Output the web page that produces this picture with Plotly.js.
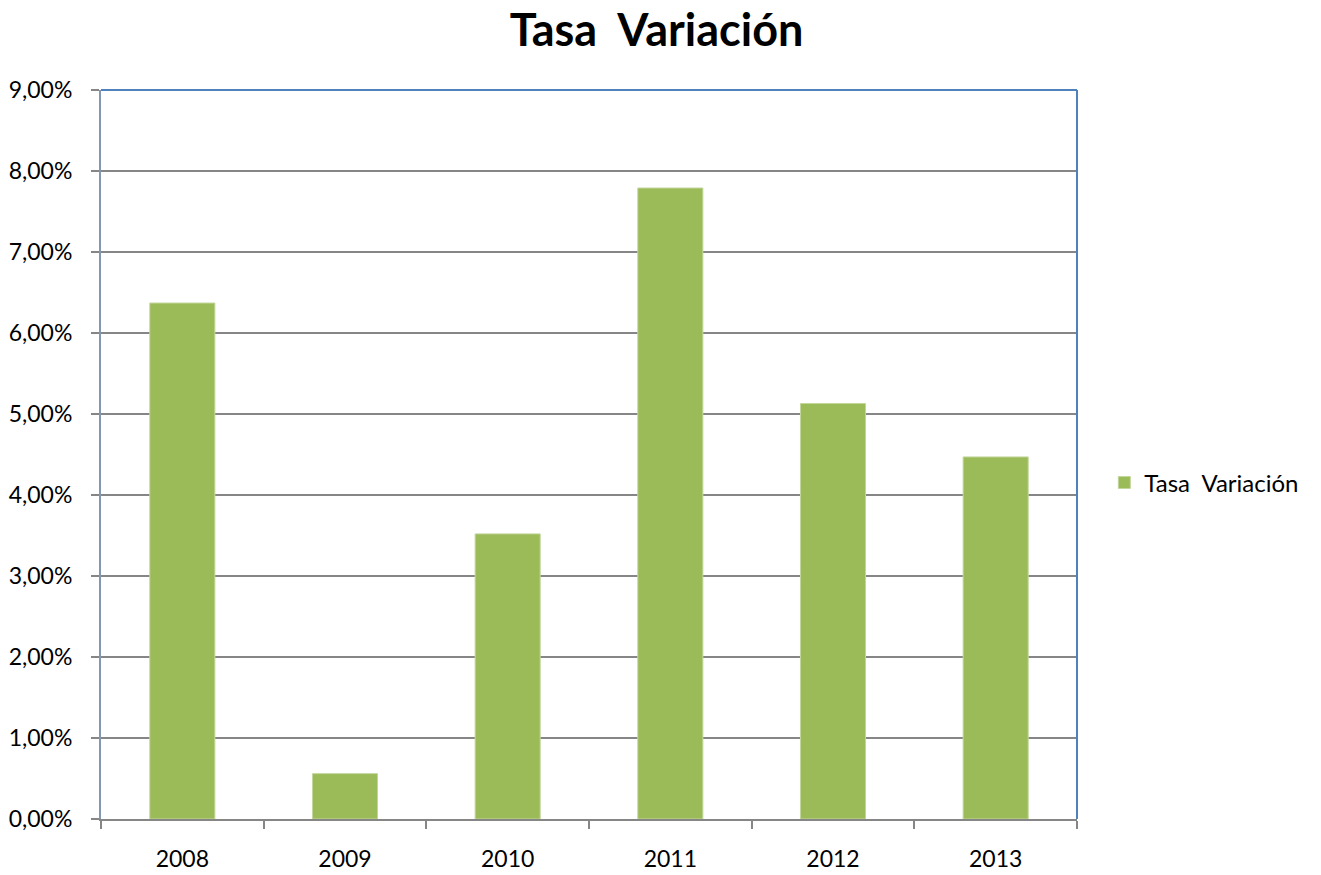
<!DOCTYPE html>
<html>
<head>
<meta charset="utf-8">
<script src="https://cdn.plot.ly/plotly-3.0.1.min.js"></script>
<style>html,body{margin:0;padding:0;background:#fff;}#chart{width:1321px;height:875px;}</style>
</head>
<body>
<div id="chart"></div>
<script>
const categories = ['2008', '2009', '2010', '2011', '2012', '2013'];
const tasaVariacion = [6.37, 0.56, 3.52, 7.79, 5.13, 4.47];
const seriesName = 'Tasa\u00a0 Variación';
const chartTitle = 'Tasa\u00a0 Variación';

const trace = {
  type: 'bar',
  x: categories,
  y: tasaVariacion,
  name: seriesName,
  marker: { color: '#9BBB59', line: { color: '#C3D69B', width: 1 } },
  showlegend: true,
  hoverinfo: 'x+y'
};

const layout = {
  width: 1321,
  height: 875,
  margin: { l: 101, r: 244, t: 90, b: 56, pad: 0 },
  paper_bgcolor: '#ffffff',
  plot_bgcolor: '#ffffff',
  separators: ',.',
  font: { family: 'Lato, "Open Sans", sans-serif', color: '#000000', size: 23 },
  title: {
    text: '<b>' + chartTitle + '</b>',
    x: 0.497, xref: 'container', xanchor: 'center',
    y: 0.966, yref: 'container', yanchor: 'middle',
    font: { family: 'Lato, "Open Sans", sans-serif', size: 45, color: '#000000' }
  },
  bargap: 0.6,
  xaxis: {
    type: 'category',
    showgrid: false,
    showline: true,
    linecolor: '#868686',
    linewidth: 2,
    ticks: 'outside',
    tickson: 'boundaries',
    ticklen: 8,
    tickcolor: '#868686',
    tickwidth: 2,
    ticklabelstandoff: 18,
    tickfont: { size: 23, color: '#000' },
    zeroline: false,
    fixedrange: true
  },
  yaxis: {
    range: [0, 9],
    dtick: 1,
    tick0: 0,
    tickformat: '.2f',
    ticksuffix: '%',
    showgrid: true,
    gridcolor: '#868686',
    gridwidth: 1.5,
    showline: true,
    linecolor: '#8497B0',
    linewidth: 2,
    ticks: 'outside',
    ticklen: 8,
    tickcolor: '#868686',
    tickwidth: 2,
    ticklabelstandoff: 14,
    tickfont: { size: 23, color: '#000' },
    zeroline: false,
    fixedrange: true
  },
  legend: {
    x: 1.028, xanchor: 'left',
    y: 0.461, yanchor: 'middle',
    font: { size: 24, color: '#000' },
    bgcolor: 'rgba(0,0,0,0)',
    itemwidth: 30
  },
  shapes: [
    { type: 'line', xref: 'paper', yref: 'paper', x0: 0, x1: 1, y0: 1, y1: 1, line: { color: '#4F81BD', width: 2 } },
    { type: 'line', xref: 'paper', yref: 'paper', x0: 1, x1: 1, y0: 0, y1: 1, line: { color: '#4F81BD', width: 2 } }
  ],
  showlegend: true
};

Plotly.newPlot('chart', [trace], layout, { displayModeBar: false, staticPlot: true });
</script>
</body>
</html>
